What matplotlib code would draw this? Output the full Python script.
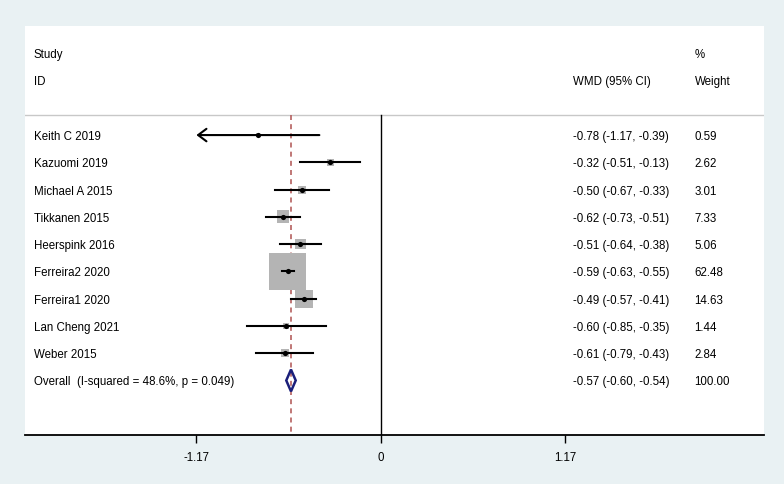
import numpy as np
import matplotlib
matplotlib.use("Agg")
import matplotlib.pyplot as plt

plt.rcParams["font.family"] = ["Liberation Sans", "DejaVu Sans"]

# study rows, top to bottom
studies = [
    "Keith C 2019", "Kazuomi 2019", "Michael A 2015", "Tikkanen 2015",
    "Heerspink 2016", "Ferreira2 2020", "Ferreira1 2020", "Lan Cheng 2021",
    "Weber 2015",
]
wmd = [-0.78, -0.32, -0.50, -0.62, -0.51, -0.59, -0.49, -0.60, -0.61]
ci_lo = [-1.17, -0.51, -0.67, -0.73, -0.64, -0.63, -0.57, -0.85, -0.79]
ci_hi = [-0.39, -0.13, -0.33, -0.51, -0.38, -0.55, -0.41, -0.35, -0.43]
weight = [0.59, 2.62, 3.01, 7.33, 5.06, 62.48, 14.63, 1.44, 2.84]

overall_label = "Overall  (I-squared = 48.6%, p = 0.049)"
overall = (-0.57, -0.60, -0.54)
overall_weight = 100.00

x_ticks = [-1.17, 0, 1.17]
x_range = (-2.257, 2.43)

fs = 8.3
dy = 0.07  # nudge text down to sit on the row centre
bg = "#e9f1f3"
fig = plt.figure(figsize=(7.84, 4.84), dpi=100, facecolor=bg)
ax = fig.add_axes([25 / 784, (484 - 435) / 484, 739 / 784, 409 / 484])
ax.set_facecolor("white")
ax.set_xlim(*x_range)
ax.set_ylim(11.0, -4.0)

for side in ("top", "left", "right"):
    ax.spines[side].set_visible(False)
ax.spines["bottom"].set_linewidth(1.3)
ax.set_yticks([])
ax.set_xticks(x_ticks)
ax.set_xticklabels(["-1.17", "0", "1.17"], fontsize=fs)
ax.tick_params(axis="x", length=6, width=1, pad=6)

n = len(studies)
rows = np.arange(n)
row_overall = n

# header and separator
ax.text(-2.2, -3 + dy, "Study", fontsize=fs, va="center")
ax.text(-2.2, -2 + dy, "ID", fontsize=fs, va="center")
ax.text(1.22, -2 + dy, "WMD (95% CI)", fontsize=fs, va="center")
ax.text(1.99, -3 + dy, "%", fontsize=fs, va="center")
ax.text(1.99, -2 + dy, "Weight", fontsize=fs, va="center")
ax.plot(x_range, [-0.73, -0.73], color="#c8c8c8", lw=1)

# null line and pooled estimate line
ax.plot([0, 0], [-0.73, 11], color="black", lw=1)
ax.plot([overall[0]] * 2, [-0.73, 11], color="#b5605f", lw=1.2,
        ls=(0, (3, 2.5)))

# study boxes, CIs and points
ax.scatter(wmd, rows, s=np.array(weight) * 11.5, marker="s",
           color="#b4b4b4", zorder=3, linewidths=0)
for i in range(n):
    if ci_lo[i] <= x_ticks[0]:
        ax.annotate("", xy=(ci_lo[i], rows[i]), xytext=(ci_hi[i], rows[i]),
                    arrowprops=dict(arrowstyle="->,head_length=0.6,head_width=0.45",
                                    lw=1.5, color="black",
                                    shrinkA=0, shrinkB=0),
                    zorder=4)
    else:
        ax.plot([ci_lo[i], ci_hi[i]], [rows[i], rows[i]], color="black",
                lw=1.5, zorder=4)
ax.scatter(wmd, rows, s=14, color="black", zorder=5, linewidths=0)

# overall diamond
est, lo, hi = overall
ax.fill([lo, est, hi, est, lo], [row_overall, row_overall - 0.4,
        row_overall, row_overall + 0.4, row_overall],
        facecolor="none", edgecolor="#1b1f7a", lw=1.8, zorder=5)

# labels and text columns
for i in range(n):
    ax.text(-2.2, rows[i] + dy, studies[i], fontsize=fs, va="center")
    ax.text(1.22, rows[i] + dy,
            f"{wmd[i]:.2f} ({ci_lo[i]:.2f}, {ci_hi[i]:.2f})",
            fontsize=fs, va="center")
    ax.text(1.99, rows[i] + dy, f"{weight[i]:.2f}", fontsize=fs, va="center")
ax.text(-2.2, row_overall + dy, overall_label, fontsize=fs, va="center")
ax.text(1.22, row_overall + dy, f"{est:.2f} ({lo:.2f}, {hi:.2f})",
        fontsize=fs, va="center")
ax.text(1.99, row_overall + dy, f"{overall_weight:.2f}", fontsize=fs,
        va="center")

fig.savefig("out.png", dpi=100, facecolor=bg)
